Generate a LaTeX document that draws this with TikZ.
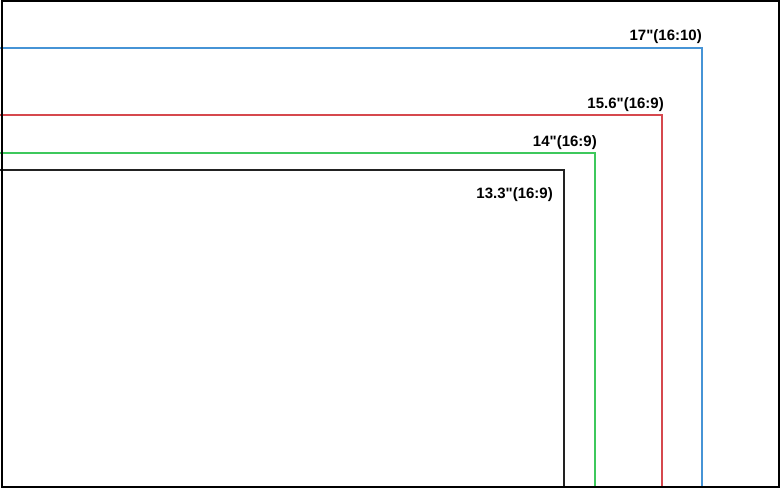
\documentclass[tikz,border=0pt]{standalone}
\usepackage{fontspec}
\setmainfont{Liberation Sans}
\usetikzlibrary{positioning}
\definecolor{scrblue}{RGB}{70,148,214}
\definecolor{scrred}{RGB}{214,72,78}
\definecolor{scrgreen}{RGB}{62,200,92}
\definecolor{scrblack}{RGB}{34,34,34}
\tikzset{
    %Define style for the screen outlines
    screen/.style={
           line width=1.5pt},
    %Define style for the size labels
    sizelbl/.style={
           anchor=base east,
           inner sep=0pt,
           font=\bfseries\fontsize{15}{17}\selectfont}
}
\begin{document}
\begin{tikzpicture}[x=1pt,y=-1pt]
  \useasboundingbox (0,0) rectangle (780,488);
  % screen outlines, anchored at the lower left corner
  \draw[screen,scrblue] (0,48) -| (702,487);
  \draw[screen,scrred] (0,115) -| (662,487);
  \draw[screen,scrgreen] (0,153) -| (595,487);
  \draw[screen,scrblack] (0,170) -| (564,487);
  % labels
  \node[sizelbl] (l17) at (702,40) {17\textquotedbl(16:10)};
  \node[sizelbl] (l156) at (664,108) {15.6\textquotedbl(16:9)};
  \node[sizelbl] (l14) at (597,146) {14\textquotedbl(16:9)};
  \node[sizelbl] (l133) at (553,198) {13.3\textquotedbl(16:9)};
  % outer frame
  \draw[line width=2pt] (1.5,1) rectangle (779,487);
\end{tikzpicture}
\end{document}
